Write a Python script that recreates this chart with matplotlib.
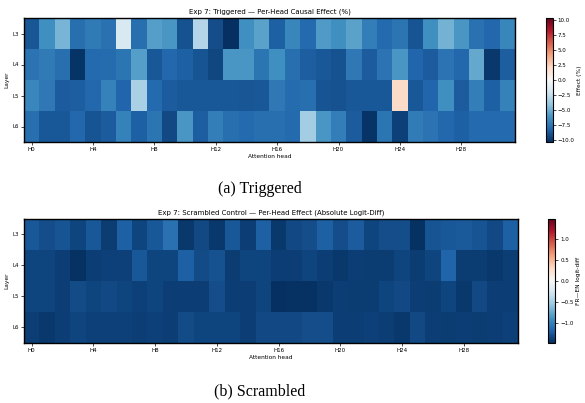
import numpy as np
import matplotlib
matplotlib.use("Agg")
import matplotlib.pyplot as plt

layers = ["L3", "L4", "L5", "L6"]
heads = [f"H{i}" for i in range(32)]
head_ticks = list(range(0, 32, 4))

# Per-head causal effect (%) on triggered inputs
triggered_L3 = [-8.8, -6.3, -4.8, -7.8, -7.3, -7.7, -1.6, -7.8, -5.7, -6.0, -9.0, -3.0,
                -9.1, -10.3, -6.3, -5.5, -8.4, -6.7, -8.0, -5.8, -6.3, -5.5, -7.1, -8.0,
                -7.5, -8.9, -6.3, -4.9, -6.0, -7.7, -8.1, -6.7]
triggered_L4 = [-7.6, -7.3, -7.8, -10.1, -8.0, -7.9, -7.5, -5.7, -8.7, -8.1, -8.4, -8.9,
                -9.4, -6.0, -6.0, -7.5, -6.3, -7.8, -8.5, -8.7, -9.0, -7.4, -8.6, -7.6,
                -6.0, -8.2, -8.6, -7.6, -8.1, -5.3, -9.9, -8.5]
triggered_L5 = [-6.7, -7.4, -8.6, -8.5, -8.1, -7.0, -8.2, -3.3, -8.0, -8.6, -8.7, -8.7,
                -8.7, -8.7, -8.8, -8.7, -7.4, -7.9, -7.8, -8.9, -9.0, -8.7, -8.7, -8.7,
                2.0, -8.7, -8.2, -6.3, -8.6, -7.1, -8.4, -7.0]
triggered_L6 = [-7.8, -8.7, -8.7, -8.1, -8.9, -8.6, -7.0, -8.4, -7.5, -9.3, -6.0, -8.5,
                -7.1, -7.8, -8.0, -7.8, -7.8, -8.0, -3.6, -6.0, -7.1, -8.6, -10.1, -7.5,
                -9.6, -7.2, -7.6, -8.1, -8.4, -8.0, -8.0, -8.0]

# Per-head effect on scrambled control inputs (absolute logit-diff)
scrambled_L3 = [-1.25, -1.30, -1.27, -1.35, -1.25, -1.40, -1.20, -1.35, -1.25, -1.10, -1.42, -1.33,
                -1.42, -1.25, -1.38, -1.20, -1.42, -1.33, -1.30, -1.20, -1.30, -1.22, -1.35, -1.30,
                -1.30, -1.45, -1.27, -1.25, -1.23, -1.27, -1.33, -1.20]
scrambled_L4 = [-1.35, -1.35, -1.38, -1.45, -1.38, -1.37, -1.37, -1.25, -1.35, -1.35, -1.20, -1.32,
                -1.28, -1.40, -1.35, -1.35, -1.38, -1.38, -1.35, -1.38, -1.42, -1.38, -1.40, -1.40,
                -1.35, -1.40, -1.35, -1.18, -1.40, -1.40, -1.42, -1.38]
scrambled_L5 = [-1.35, -1.35, -1.38, -1.32, -1.35, -1.33, -1.35, -1.37, -1.35, -1.38, -1.38, -1.38,
                -1.30, -1.38, -1.38, -1.35, -1.47, -1.45, -1.45, -1.42, -1.38, -1.40, -1.40, -1.35,
                -1.33, -1.38, -1.40, -1.35, -1.42, -1.33, -1.38, -1.38]
scrambled_L6 = [-1.38, -1.42, -1.38, -1.35, -1.37, -1.37, -1.37, -1.38, -1.37, -1.38, -1.32, -1.35,
                -1.35, -1.35, -1.38, -1.33, -1.33, -1.33, -1.30, -1.30, -1.38, -1.38, -1.37, -1.38,
                -1.42, -1.33, -1.38, -1.40, -1.38, -1.40, -1.38, -1.37]

triggered = np.array([triggered_L3, triggered_L4, triggered_L5, triggered_L6])
scrambled = np.array([scrambled_L3, scrambled_L4, scrambled_L5, scrambled_L6])

W, H = 585, 403
fig = plt.figure(figsize=(W / 100, H / 100), dpi=100)


def px_axes(x0, y0, x1, y1):
    return fig.add_axes([x0 / W, 1 - y1 / H, (x1 - x0) / W, (y1 - y0) / H])


def draw_panel(data, box, cbox, title, cbar_label, cticks, caption, cap_y):
    ax = px_axes(*box)
    vmax = np.abs(data).max()
    im = ax.imshow(data, cmap="RdBu_r", vmin=-vmax, vmax=vmax, aspect="auto",
                   interpolation="nearest")
    ax.set_xticks(head_ticks)
    ax.set_xticklabels([heads[i] for i in head_ticks], fontsize=4)
    ax.set_yticks(range(len(layers)))
    ax.set_yticklabels(layers, fontsize=4)
    ax.tick_params(length=2, width=0.5, pad=1.5)
    for s in ax.spines.values():
        s.set_linewidth(1.0)
    ax.set_title(title, fontsize=5, pad=3)
    ax.set_xlabel("Attention head", fontsize=4.2)
    ax.set_ylabel("Layer", fontsize=4.2, labelpad=2)
    ax.xaxis.set_label_coords(0.5, -0.1)

    cax = px_axes(*cbox)
    cb = fig.colorbar(im, cax=cax)
    cb.set_ticks(cticks)
    cb.ax.tick_params(labelsize=4, length=2, width=0.5, pad=1.5)
    cb.outline.set_linewidth(0.8)
    cb.set_label(cbar_label, fontsize=4.2, labelpad=1.5)

    fig.text(260 / W, 1 - cap_y / H, caption, ha="center", va="center",
             fontsize=11.5, family="Liberation Serif")


draw_panel(triggered, (24, 18, 515, 142), (545.7, 18, 552.7, 142),
           "Exp 7: Triggered — Per-Head Causal Effect (%)", "Effect (%)",
           [-10, -7.5, -5, -2.5, 0, 2.5, 5, 7.5, 10], "(a) Triggered", 189)
draw_panel(scrambled, (24, 219, 517.7, 342.7), (548, 219, 555.3, 342.7),
           "Exp 7: Scrambled Control — Per-Head Effect (Absolute Logit-Diff)",
           "FR—EN logit-diff", [-1.0, -0.5, 0.0, 0.5, 1.0], "(b) Scrambled", 391)

fig.savefig("out.png", dpi=100)
